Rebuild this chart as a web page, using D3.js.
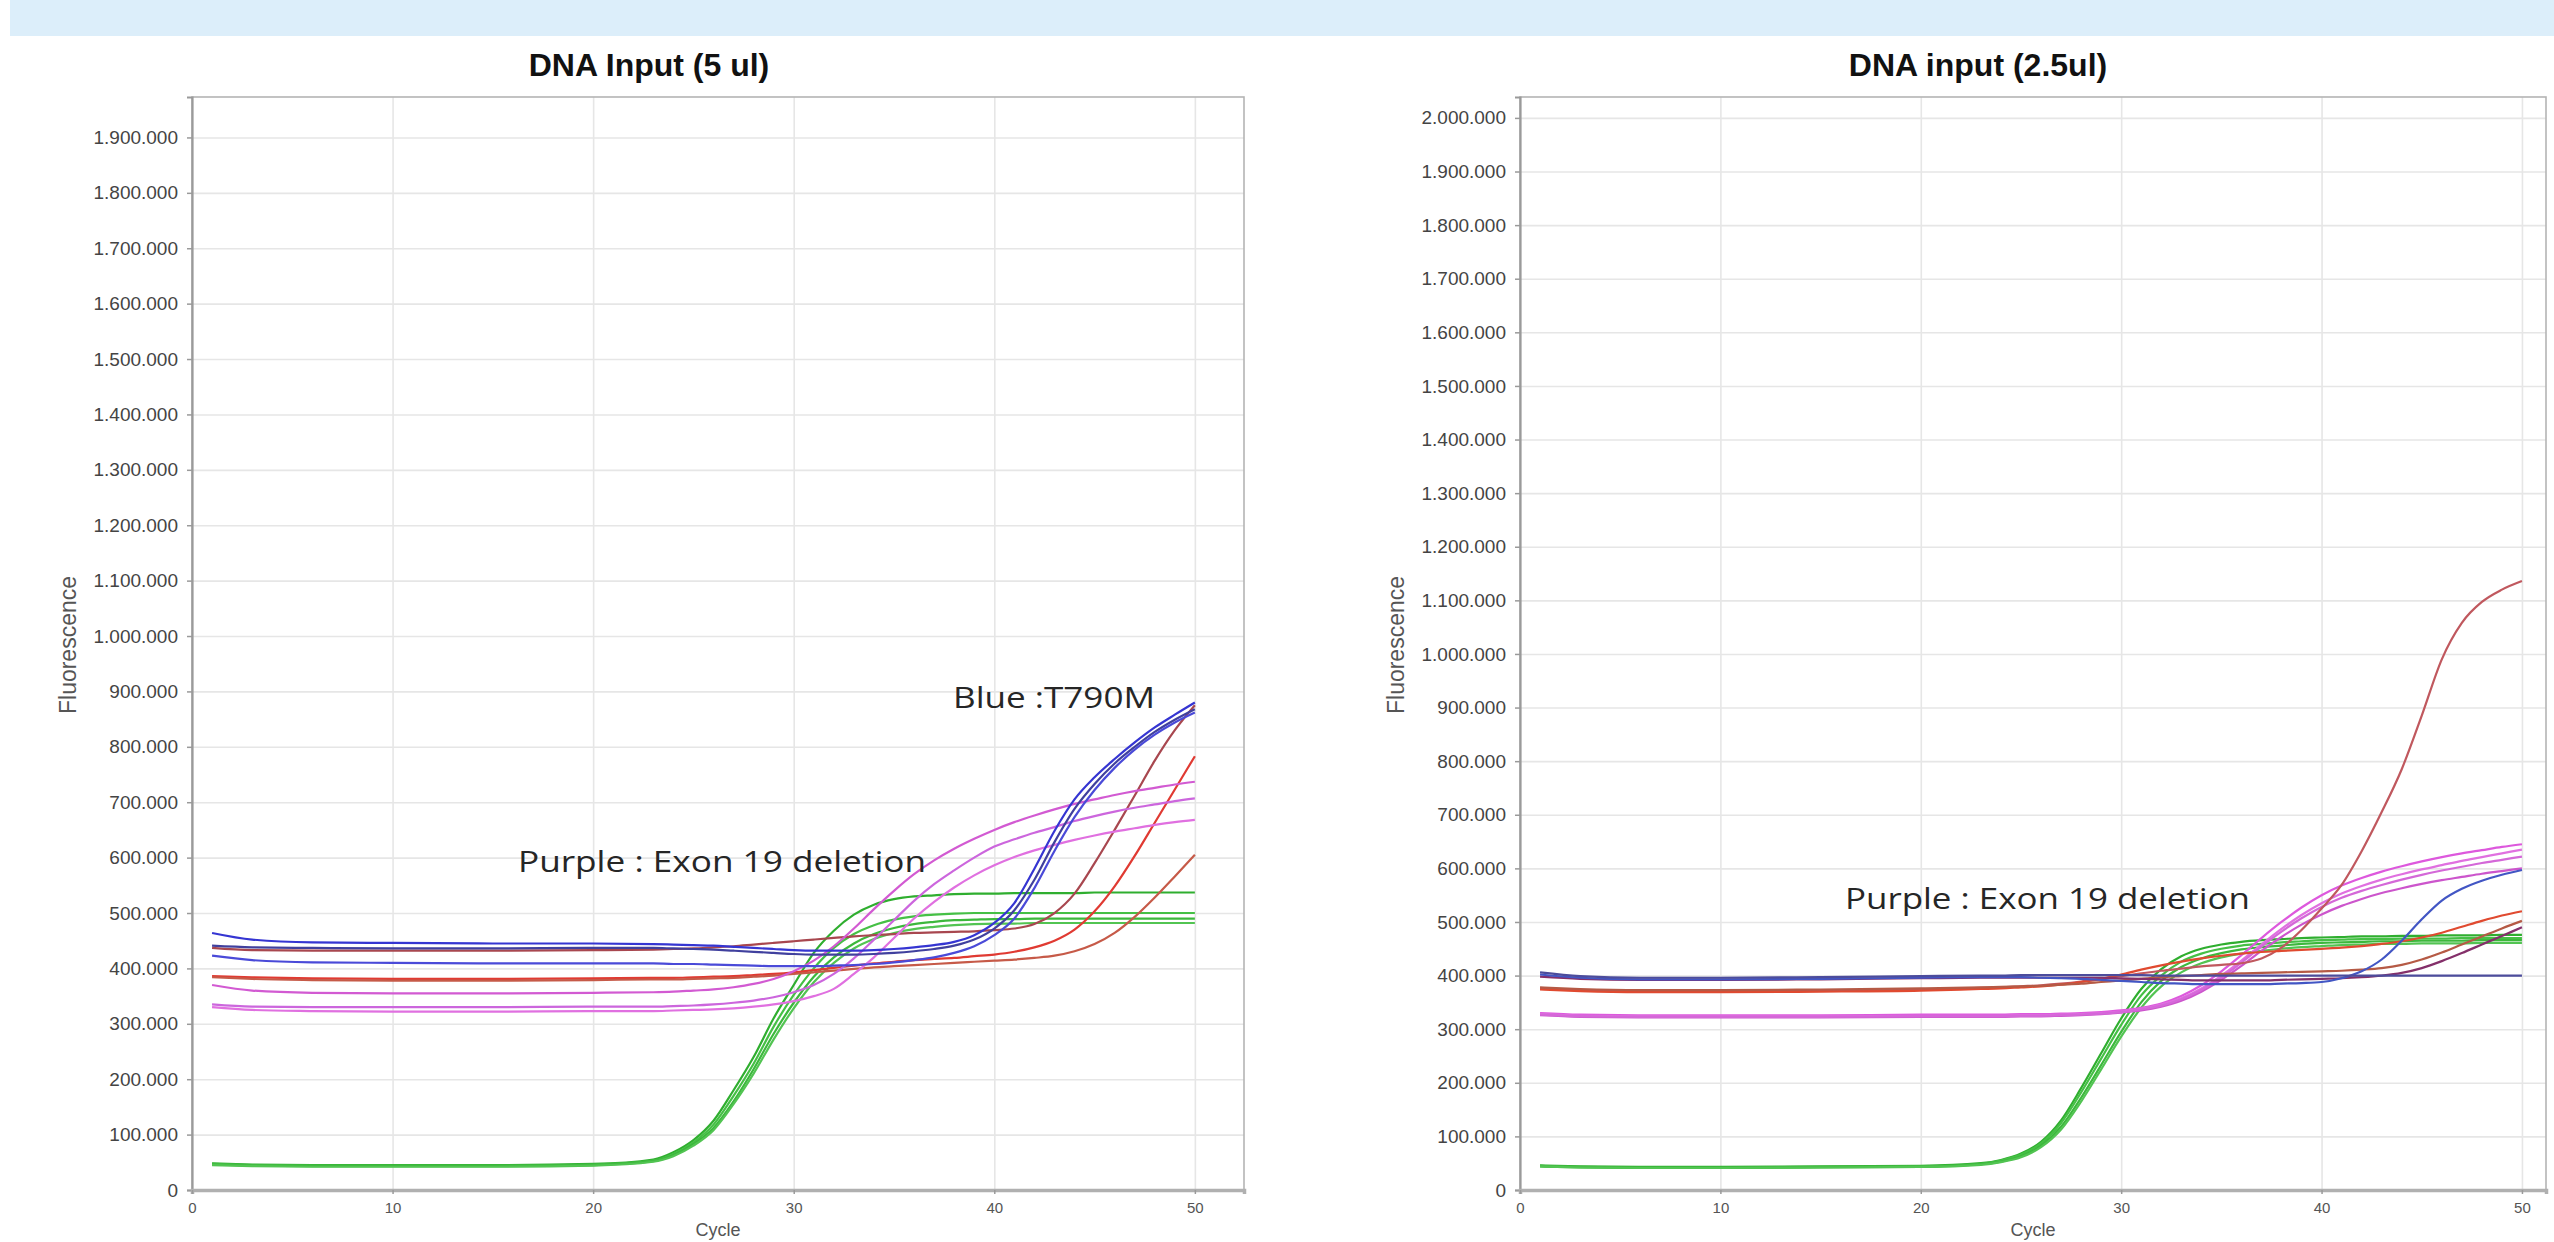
<!DOCTYPE html>
<html>
<head>
<meta charset="utf-8">
<script src="https://cdn.jsdelivr.net/npm/d3@7"></script>
<style>
  body { margin: 0; background: #fff; }
  svg { display: block; }
</style>
</head>
<body>
<svg id="fig" width="2554" height="1242"></svg>
<script>
// ── Data (fluorescence in thousands, sampled at CYCLES) ──────────────────────
const CYCLES = [1,3,6,10,15,20,23,24,25,26,27,28,29,30,31,32,33,34,35,36,37,38,39,40,41,42,43,44,45,46,47,48,49,50];

// left panel: DNA Input (5 ul)
const L_GREEN_1 = [48,46,45,45,45,47,55,68,90,125,180,240,310,370,428,468,497,515,525,530,532,534,535,535,536,536,536,536,537,537,537,537,537,537];
const L_GREEN_2 = [47,45,44,44,44,46,53,65,86,118,170,228,295,352,400,437,462,478,488,494,497,499,500,500,500,500,500,500,500,500,500,500,500,500];
const L_GREEN_3 = [46,44,43,43,43,45,52,63,83,112,160,218,282,338,385,420,445,462,473,480,484,487,488,489,489,490,490,490,490,490,490,490,490,490];
const L_GREEN_4 = [45,43,42,42,42,44,51,61,80,108,155,210,272,328,375,410,436,453,464,471,475,478,480,481,481,482,482,482,482,482,482,482,482,482];
const L_PINK_1  = [370,360,356,355,355,356,357,358,360,362,366,372,381,395,414,440,472,507,540,570,595,616,634,650,664,676,687,697,705,713,720,726,732,737];
const L_PINK_2  = [335,331,330,330,330,331,331,332,333,335,338,342,348,357,370,390,418,452,487,522,552,577,600,620,633,645,655,666,675,683,690,696,702,707];
const L_PINK_3  = [330,325,323,322,322,323,323,324,325,326,328,331,335,341,350,363,390,420,455,490,520,546,568,586,601,613,623,632,640,647,653,659,664,668];
const L_RED_1   = [437,433,432,432,432,433,434,435,436,438,440,443,446,449,452,455,458,460,462,464,465,466,467,469,472,480,500,535,590,650,712,775,830,875];
const L_RED_2   = [386,384,382,381,381,382,383,383,384,385,386,388,390,393,397,401,405,409,412,415,417,419,422,425,430,438,450,470,503,548,603,663,723,783];
const L_RED_3   = [384,381,379,378,378,379,380,380,381,382,383,385,387,390,393,396,399,402,404,406,408,410,412,414,416,419,423,431,444,464,493,528,566,605];
const L_BLUE_1  = [464,452,447,446,445,445,444,443,442,441,439,437,435,433,432,432,432,433,435,438,442,448,460,482,518,580,648,705,745,778,808,835,858,880];
const L_BLUE_2  = [441,438,437,436,436,437,437,436,435,434,432,430,428,426,425,425,425,426,428,431,435,441,452,472,505,560,628,688,733,770,800,827,849,868];
const L_BLUE_3  = [423,415,411,410,409,409,409,408,408,407,406,405,404,404,404,405,406,408,411,415,420,428,440,460,490,545,612,673,722,762,795,822,844,862];

// right panel: DNA input (2.5ul)
const R_GREEN_1 = [46,44,43,43,44,45,50,56,68,90,130,190,255,320,375,412,436,450,458,463,466,468,470,471,472,473,473,474,474,475,475,475,476,476];
const R_GREEN_2 = [45,43,42,42,43,44,49,55,66,87,125,182,245,308,363,400,426,441,450,456,459,462,464,466,467,468,468,469,469,469,470,470,470,470];
const R_GREEN_3 = [44,42,41,41,42,43,48,53,63,83,118,172,233,295,350,390,416,432,442,449,453,456,459,461,462,463,464,464,465,465,465,466,466,466];
const R_GREEN_4 = [44,42,41,41,42,43,47,52,61,80,113,165,225,286,340,380,406,423,434,441,446,450,453,455,457,458,459,459,460,460,460,461,461,461];
const R_PINK_1  = [330,327,326,326,326,327,327,327,328,328,329,330,332,335,340,348,362,382,408,438,470,500,527,550,568,582,594,604,613,621,628,634,640,645];
const R_PINK_2  = [328,325,324,324,324,325,325,325,326,326,327,328,330,333,338,346,358,376,400,428,458,487,513,535,553,567,579,589,598,606,614,621,628,635];
const R_PINK_3  = [326,323,322,322,322,323,323,323,324,324,325,326,328,331,335,342,353,370,392,418,446,472,495,514,530,543,554,563,571,578,584,590,595,600];
const R_PINK_4  = [327,324,323,323,323,324,324,324,325,325,326,327,329,332,337,344,356,373,396,424,454,482,507,528,545,558,569,579,588,596,603,610,616,622];
const R_RED_1   = [376,373,371,371,372,374,377,378,380,382,385,389,394,399,404,409,413,417,420,423,432,452,485,525,569,632,705,785,885,990,1058,1097,1120,1136];
const R_RED_2   = [374,371,369,369,370,372,375,376,378,380,383,388,394,402,411,419,426,432,437,441,444,446,448,450,452,455,459,464,471,480,491,502,512,520];
const R_RED_3   = [378,375,373,373,374,376,378,379,380,381,383,385,388,391,394,397,399,401,403,404,405,406,407,408,409,411,414,420,430,443,458,473,488,502];
const R_RED_4   = [398,394,392,392,393,395,396,396,396,396,396,396,396,395,394,393,392,391,391,391,391,392,393,394,395,397,400,405,414,427,442,458,474,490];
const R_BLUE_1  = [402,396,393,393,394,396,397,397,397,396,395,394,392,390,388,386,385,384,384,384,384,385,386,388,395,408,430,465,505,540,562,577,588,597];
const R_BLUE_2  = [406,399,396,396,397,399,400,400,401,401,401,401,401,401,401,400,400,400,400,400,400,400,400,400,400,400,400,400,400,400,400,400,400,400];

const X_TICKS = [0, 10, 20, 30, 40, 50];
const Y_TICKS_L = d3.range(0, 1900001, 100000);
const Y_TICKS_R = d3.range(0, 2000001, 100000);

// ── Panels ────────────────────────────────────────────────────────────────────
const panels = [
  {
    title: 'DNA Input (5 ul)', titleX: 649,
    x0: 192, x1: 1244, xMax: 52.45, yMax: 1973000, yTicks: Y_TICKS_L,
    ylabX: 68,
    series: [
      [L_GREEN_1, '#2fae2f'], [L_GREEN_2, '#45c045'], [L_GREEN_3, '#3cb83c'], [L_GREEN_4, '#52c452'],
      [L_RED_1, '#a8474f'], [L_RED_2, '#e03a32'], [L_RED_3, '#c65a48'],
      [L_PINK_1, '#d25ad2'], [L_PINK_2, '#cc66dd'], [L_PINK_3, '#e070e0'],
      [L_BLUE_1, '#3535d2'], [L_BLUE_2, '#40409e'], [L_BLUE_3, '#4a4ad8']
    ],
    notes: [
      { text: 'Blue :T790M', x: 953, y: 708, w: 202 },
      { text: 'Purple : Exon 19 deletion', x: 518, y: 872, w: 408 }
    ]
  },
  {
    title: 'DNA input (2.5ul)', titleX: 1978,
    x0: 1520, x1: 2546, xMax: 51.2, yMax: 2039000, yTicks: Y_TICKS_R,
    ylabX: 1396,
    series: [
      [R_GREEN_1, '#2fae2f'], [R_GREEN_2, '#45c045'], [R_GREEN_3, '#3cb83c'], [R_GREEN_4, '#52c452'],
      [R_PINK_1, '#dd58dd'], [R_PINK_2, '#e070e0'], [R_PINK_3, '#cc55cc'], [R_PINK_4, '#d468d8'],
      [R_RED_1, '#c0585e'], [R_RED_2, '#e04a30'], [R_RED_3, '#b55a45'], [R_RED_4, '#84306a'],
      [R_BLUE_1, '#4256c4'], [R_BLUE_2, '#4c4c9c']
    ],
    notes: [
      { text: 'Purple : Exon 19 deletion', x: 1845, y: 909, w: 405 }
    ]
  }
];

const Y0 = 1190, Y1 = 97;
const svg = d3.select('#fig');
const fmt = d3.formatLocale({ decimal: ',', thousands: '.', grouping: [3], currency: ['', ''] }).format(',d');

// top banner
svg.append('rect').attr('x', 10).attr('y', 0).attr('width', 2544).attr('height', 36).attr('fill', '#dceefa');

panels.forEach(p => {
  const x = d3.scaleLinear().domain([0, p.xMax]).range([p.x0, p.x1]);
  const y = d3.scaleLinear().domain([0, p.yMax]).range([Y0, Y1]);
  const g = svg.append('g');

  // grid
  g.append('g').attr('transform', `translate(${p.x0},0)`)
    .call(d3.axisLeft(y).tickValues(p.yTicks.slice(1)).tickSize(-(p.x1 - p.x0)).tickFormat(''))
    .call(s => s.select('.domain').remove())
    .selectAll('line').attr('stroke', '#e6e6e6').attr('stroke-width', 1.6);
  g.append('g').attr('transform', `translate(0,${Y0})`)
    .call(d3.axisBottom(x).tickValues(X_TICKS.slice(1)).tickSize(-(Y0 - Y1)).tickFormat(''))
    .call(s => s.select('.domain').remove())
    .selectAll('line').attr('stroke', '#e6e6e6').attr('stroke-width', 1.6);

  // frame
  g.append('rect').attr('x', p.x0).attr('y', Y1).attr('width', p.x1 - p.x0).attr('height', Y0 - Y1)
    .attr('fill', 'none').attr('stroke', '#b4b4b4').attr('stroke-width', 1.6);

  // curves
  const line = d3.line().x((d, i) => x(CYCLES[i])).y(d => y(d * 1000)).curve(d3.curveMonotoneX);
  p.series.forEach(([vals, col]) => {
    g.append('path').datum(vals).attr('d', line)
      .attr('fill', 'none').attr('stroke', col).attr('stroke-width', 2.2).attr('stroke-linejoin', 'round');
  });

  // axes
  const ay = g.append('g').attr('transform', `translate(${p.x0},0)`)
    .call(d3.axisLeft(y).tickValues(p.yTicks).tickSize(5).tickPadding(9).tickFormat(fmt));
  ay.select('.domain').attr('stroke', '#9a9a9a').attr('stroke-width', 2.2);
  ay.selectAll('line').attr('stroke', '#9a9a9a').attr('stroke-width', 1.5);
  ay.selectAll('text').attr('font-family', 'Liberation Sans, Arial, sans-serif').attr('font-size', 19).attr('fill', '#444');

  const ax = g.append('g').attr('transform', `translate(0,${Y0})`)
    .call(d3.axisBottom(x).tickValues(X_TICKS).tickSize(4).tickPadding(8).tickFormat(d3.format('d')));
  ax.select('.domain').attr('stroke', '#b0b0b0').attr('stroke-width', 3.5);
  ax.selectAll('line').attr('stroke', '#9a9a9a').attr('stroke-width', 1.5);
  ax.selectAll('text').attr('font-family', 'Liberation Sans, Arial, sans-serif').attr('font-size', 15).attr('fill', '#555');

  // titles and axis labels
  g.append('text').attr('x', p.titleX).attr('y', 76).attr('text-anchor', 'middle')
    .attr('font-family', 'Liberation Sans, Arial, sans-serif').attr('font-weight', 'bold')
    .attr('font-size', 32).attr('fill', '#111').text(p.title);
  g.append('text').attr('transform', `translate(${p.ylabX},645) rotate(-90)`)
    .attr('text-anchor', 'middle').attr('dominant-baseline', 'central')
    .attr('font-family', 'Liberation Sans, Arial, sans-serif').attr('font-size', 23).attr('fill', '#555')
    .text('Fluorescence');
  g.append('text').attr('x', (p.x0 + p.x1) / 2).attr('y', 1236).attr('text-anchor', 'middle')
    .attr('font-family', 'Liberation Sans, Arial, sans-serif').attr('font-size', 18).attr('fill', '#555')
    .text('Cycle');

  // annotations
  p.notes.forEach(n => {
    g.append('text').attr('x', n.x).attr('y', n.y)
      .attr('font-family', 'Open Sans, sans-serif').attr('font-size', 30).attr('fill', '#262626')
      .attr('textLength', n.w).attr('lengthAdjust', 'spacingAndGlyphs')
      .text(n.text);
  });
});
</script>
</body>
</html>
